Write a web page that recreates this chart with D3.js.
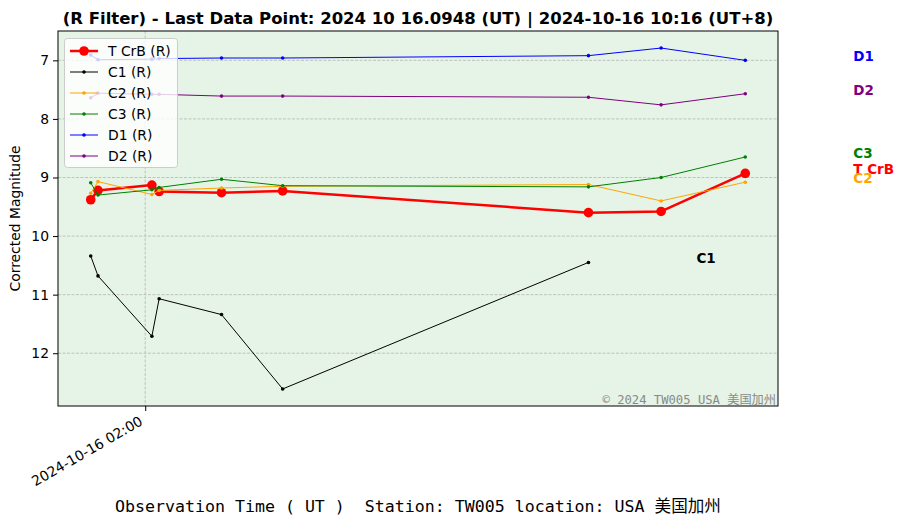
<!DOCTYPE html>
<html>
<head>
<meta charset="utf-8">
<script src="https://cdn.jsdelivr.net/npm/d3@7"></script>
<style>
  html, body { margin: 0; padding: 0; background: #ffffff; }
  svg { display: block; }
</style>
</head>
<body>
<svg id="chart" width="905" height="524"></svg>
<script>
// ---- data ----
const times = ["01:58:30", "01:58:42", "02:00:11", "02:00:23", "02:02:06", "02:03:47", "02:12:12", "02:14:12", "02:16:31"];
const seriesNames = ["T CrB", "C1", "C2", "C3", "D1", "D2"];
const tcrb = [9.38, 9.22, 9.13, 9.24, 9.26, 9.23, 9.60, 9.58, 8.93];
const c1 = [10.34, 10.68, 11.71, 11.07, 11.34, 12.61, 10.45, null, null];
const c2 = [9.27, 9.07, 9.29, 9.22, 9.18, 9.15, 9.12, 9.40, 9.08];
const c3 = [9.09, 9.30, 9.21, 9.17, 9.03, 9.14, 9.16, 9.00, 8.65];
const d1 = [6.91, 6.99, 6.98, 6.97, 6.96, 6.96, 6.92, 6.79, 7.00];
const d2 = [7.64, 7.56, 7.58, 7.58, 7.61, 7.61, 7.63, 7.76, 7.57];
const xTickLabels = ["2024-10-16 02:00"];
const yTicks = [7, 8, 9, 10, 11, 12];
const titleText = "(R Filter) - Last Data Point: 2024 10 16.0948 (UT) | 2024-10-16 10:16 (UT+8)";
const xLabelText = "Observation Time ( UT )  Station: TW005 location: USA 美国加州";
const watermarkText = "© 2024 TW005 USA 美国加州";

// ---- styles ----
const colors = { "T CrB": "red", "C1": "black", "C2": "orange", "C3": "green", "D1": "blue", "D2": "purple" };
const valuesByName = { "T CrB": tcrb, "C1": c1, "C2": c2, "C3": c3, "D1": d1, "D2": d2 };

const parseT = d3.utcParse("%Y-%m-%d %H:%M:%S");
const tDates = times.map(t => parseT("2024-10-16 " + t));
const parseTick = d3.utcParse("%Y-%m-%d %H:%M");
const xTickDates = xTickLabels.map(s => parseTick(s));

const svg = d3.select("#chart");
const m = { left: 58, right: 778, top: 31, bottom: 406 };

// domains with 5% padding like matplotlib
const tExt = d3.extent(tDates);
const tSpan = tExt[1] - tExt[0];
const x = d3.scaleUtc()
  .domain([new Date(+tExt[0] - 0.05 * tSpan), new Date(+tExt[1] + 0.05 * tSpan)])
  .range([m.left, m.right]);

const allVals = [].concat(...seriesNames.map(n => valuesByName[n])).filter(v => v != null);
const vExt = d3.extent(allVals);
const vSpan = vExt[1] - vExt[0];
const y = d3.scaleLinear()
  .domain([vExt[0] - 0.05 * vSpan, vExt[1] + 0.05 * vSpan])
  .range([m.top, m.bottom]);

// plot background
svg.append("rect")
  .attr("x", m.left).attr("y", m.top)
  .attr("width", m.right - m.left).attr("height", m.bottom - m.top)
  .attr("fill", "#e6f4e7");

// grid
const grid = svg.append("g");
grid.selectAll("line.gy").data(yTicks).enter().append("line")
  .attr("x1", m.left).attr("x2", m.right)
  .attr("y1", d => y(d)).attr("y2", d => y(d))
  .attr("stroke", "#a8a8a8").attr("stroke-width", 0.8)
  .attr("stroke-dasharray", "3,1.5").attr("opacity", 0.8);
grid.selectAll("line.gx").data(xTickDates).enter().append("line")
  .attr("x1", d => x(d)).attr("x2", d => x(d))
  .attr("y1", m.top).attr("y2", m.bottom)
  .attr("stroke", "#a8a8a8").attr("stroke-width", 0.8)
  .attr("stroke-dasharray", "3,1.5").attr("opacity", 0.8);

// series
const line = d3.line()
  .defined(d => d.v != null)
  .x(d => x(d.t)).y(d => y(d.v));

seriesNames.forEach(name => {
  const vals = valuesByName[name];
  const pts = vals.map((v, i) => ({ t: tDates[i], v: v }));
  const main = name === "T CrB";
  const g = svg.append("g");
  g.append("path")
    .datum(pts)
    .attr("d", line)
    .attr("fill", "none")
    .attr("stroke", colors[name])
    .attr("stroke-width", main ? 2.5 : 1)
    .attr("stroke-linejoin", "round");
  g.selectAll("circle").data(pts.filter(d => d.v != null)).enter().append("circle")
    .attr("cx", d => x(d.t)).attr("cy", d => y(d.v))
    .attr("r", main ? 4.8 : 1.8)
    .attr("fill", colors[name]);
});

// axes
const yAxis = d3.axisLeft(y).tickValues(yTicks).tickFormat(d3.format("d")).tickSize(5).tickPadding(4);
const gy = svg.append("g").attr("transform", `translate(${m.left},0)`).call(yAxis);
gy.select(".domain").remove();
gy.selectAll("text").attr("font-family", "DejaVu Sans").attr("font-size", 13.9).attr("fill", "#000");
gy.selectAll("line").attr("stroke", "#000");

const xAxis = d3.axisBottom(x).tickValues(xTickDates).tickFormat((d, i) => xTickLabels[i]).tickSize(5).tickPadding(4);
const gx = svg.append("g").attr("transform", `translate(0,${m.bottom})`).call(xAxis);
gx.select(".domain").remove();
gx.selectAll("line").attr("stroke", "#000");
gx.selectAll("text")
  .attr("font-family", "DejaVu Sans").attr("font-size", 13.9).attr("fill", "#000")
  .attr("text-anchor", "end")
  .attr("dy", null).attr("y", 0)
  .attr("transform", "translate(-2,18) rotate(-30)");

// frame
svg.append("rect")
  .attr("x", m.left).attr("y", m.top)
  .attr("width", m.right - m.left).attr("height", m.bottom - m.top)
  .attr("fill", "none").attr("stroke", "#000").attr("stroke-width", 1);

// right-side labels at last values
seriesNames.forEach(name => {
  const vals = valuesByName[name];
  let li = vals.length - 1;
  while (vals[li] == null) li--;
  svg.append("text")
    .attr("x", x(tDates[li]) + 108)
    .attr("y", y(vals[li]) + 1)
    .attr("font-family", "DejaVu Sans").attr("font-weight", "bold").attr("font-size", 13.5)
    .attr("fill", colors[name])
    .text(name);
});

// watermark
svg.append("text")
  .attr("x", m.right - 2).attr("y", m.bottom - 2)
  .attr("text-anchor", "end")
  .attr("font-family", "DejaVu Sans Mono, Noto Sans CJK SC").attr("font-size", 12.2)
  .attr("fill", "#808080").attr("opacity", 0.9)
  .text(watermarkText);

// legend
const lg = svg.append("g");
lg.append("rect")
  .attr("x", 64.5).attr("y", 38.5).attr("width", 113).attr("height", 129)
  .attr("rx", 3).attr("fill", "#ffffff").attr("fill-opacity", 0.8)
  .attr("stroke", "#cccccc").attr("stroke-width", 1);
seriesNames.forEach((name, i) => {
  const yy = 51 + i * 21;
  const main = name === "T CrB";
  lg.append("line").attr("x1", 70).attr("x2", 98).attr("y1", yy).attr("y2", yy)
    .attr("stroke", colors[name]).attr("stroke-width", main ? 2.5 : 1);
  lg.append("circle").attr("cx", 84).attr("cy", yy).attr("r", main ? 4.8 : 1.8).attr("fill", colors[name]);
  lg.append("text").attr("x", 108).attr("y", yy + 5)
    .attr("font-family", "DejaVu Sans").attr("font-size", 13.9).attr("fill", "#000")
    .text(name + " (R)");
});

// title
svg.append("text")
  .attr("x", (m.left + m.right) / 2).attr("y", 24)
  .attr("text-anchor", "middle")
  .attr("font-family", "DejaVu Sans").attr("font-weight", "bold").attr("font-size", 16.5)
  .attr("fill", "#000")
  .text(titleText);

// axis labels
svg.append("text")
  .attr("transform", `translate(20,${(m.top + m.bottom) / 2}) rotate(-90)`)
  .attr("text-anchor", "middle")
  .attr("font-family", "DejaVu Sans").attr("font-size", 13.9).attr("fill", "#000")
  .text("Corrected Magnitude");

svg.append("text")
  .attr("x", (m.left + m.right) / 2).attr("y", 512)
  .attr("text-anchor", "middle")
  .attr("xml:space", "preserve")
  .style("white-space", "pre")
  .attr("font-family", "DejaVu Sans Mono, Noto Sans CJK SC").attr("font-size", 16.6).attr("fill", "#000")
  .text(xLabelText);
</script>
</body>
</html>
